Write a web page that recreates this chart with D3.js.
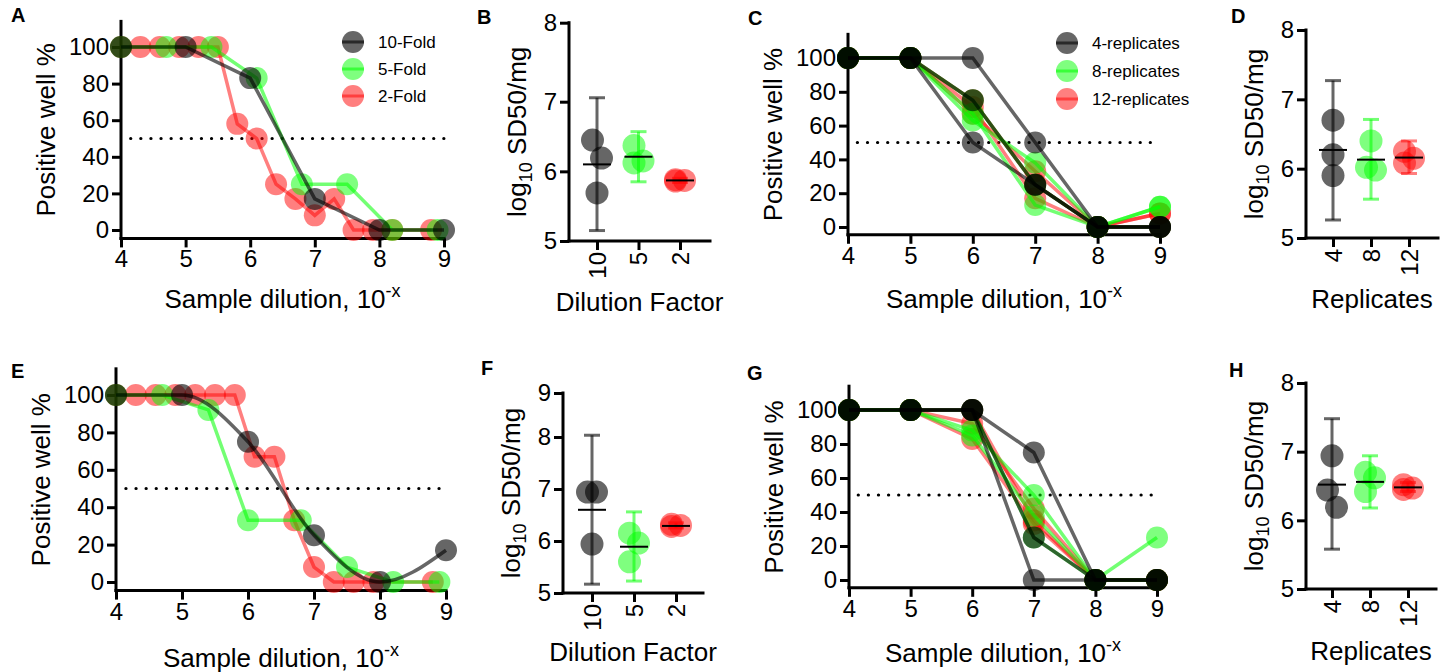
<!DOCTYPE html>
<html>
<head>
<meta charset="utf-8">
<title>Dilution series</title>
<script src="https://d3js.org/d3.v7.min.js"></script>
<style>
  body { margin: 0; background: #fff; }
  svg { font-family: "Liberation Sans", Arial, sans-serif; }
</style>
</head>
<body>
<svg id="fig" width="1445" height="672"></svg>
<script>
// ---- data ----
// line panels: [dilution exponent x (10^-x), positive well %]
var aTen  = [[4,100],[5,100],[6,83],[7,17],[8,0],[9,0]];
var aFive = [[4,100],[4.7,100],[5.4,100],[6.1,83],[6.8,25],[7.5,25],[8.2,0],[8.9,0]];
var aTwo  = [[4,100],[4.3,100],[4.6,100],[4.9,100],[5.2,100],[5.5,100],[5.8,58],[6.1,50],[6.4,25],[6.7,17],[7,8],[7.3,17],[7.6,0],[7.9,0],[8.2,0],[8.8,0]];

var eTen  = [[4,100],[5,100],[6,75],[7,25],[8,0],[9,17]];
var eFive = [[4,100],[4.7,100],[5.4,92],[6,33],[6.8,33],[7.5,8],[8.2,0],[8.9,0]];
var eTwo  = [[4,100],[4.3,100],[4.6,100],[4.9,100],[5.2,100],[5.5,100],[5.8,100],[6.1,67],[6.4,67],[6.7,33],[7,8],[7.3,0],[7.6,0],[7.9,0],[8.8,0]];

// replicate panels: one row per repeat, values at each dilution
var dilutions = [4,5,6,7,8,9];
var c4rep  = [[100,100,100,50,0,0],[100,100,50,25,0,0],[100,100,75,25,0,0]];
var c8rep  = [[100,100,63,38,0,12],[100,100,67,13,0,12],[100,100,75,25,0,0]];
var c12rep = [[100,100,71,17,0,8],[100,100,67,33,0,8],[100,100,75,25,0,0]];
var g4rep  = [[100,100,100,75,0,0],[100,100,100,0,0,0],[100,100,100,25,0,0]];
var g8rep  = [[100,100,88,50,0,25],[100,100,85,38,0,0],[100,100,100,25,0,0]];
var g12rep = [[100,100,92,42,0,0],[100,100,83,33,0,0],[100,100,100,35,0,0]];

var foldNames = ["10-Fold","5-Fold","2-Fold"];
var repNames  = ["4-replicates","8-replicates","12-replicates"];
var pctTicks  = [0,20,40,60,80,100];

// scatter panels: log10 SD50/mg, mean and 95% CI
var foldCats = ["10","5","2"];
var repCats  = ["4","8","12"];
var bPoints = [[6.45,6.19,5.69],[6.37,6.15,6.12],[5.88,5.86,5.87]];
var bMean = [6.10,6.21,5.87];
var bLow  = [5.15,5.85,5.84];
var bHigh = [7.05,6.57,5.90];
var dPoints = [[6.70,6.20,5.90],[6.40,6.02,5.98],[6.25,6.15,6.08]];
var dMean = [6.27,6.13,6.16];
var dLow  = [5.26,5.56,5.93];
var dHigh = [7.27,6.71,6.40];
var fPoints = [[6.94,6.94,5.94],[6.15,5.96,5.60],[6.32,6.28,6.30]];
var fMean = [6.60,5.89,6.29];
var fLow  = [5.17,5.23,6.25];
var fHigh = [8.04,6.56,6.35];
var hPoints = [[6.94,6.44,6.19],[6.70,6.62,6.42],[6.52,6.47,6.45]];
var hMean = [6.52,6.56,6.48];
var hLow  = [5.58,6.18,6.42];
var hHigh = [7.48,6.94,6.55];

// ---- styles ----
var colors = ["#000000","#00ff00","#ff0000"];
var dotAlpha = [0.6,0.5,0.5];
var lineAlpha = [0.6,0.55,0.5];

var svg = d3.select("#fig");

function styleAxis(g) {
	g.select(".domain").remove();
	g.attr("font-size", 24).attr("font-family", null);
	g.selectAll(".tick line").attr("stroke-width", 3);
	g.selectAll(".tick text").attr("fill", "#000");
}

function spine(x1, y1, x2, y2) {
	svg.append("line").attr("x1", x1).attr("y1", y1).attr("x2", x2).attr("y2", y2)
		.attr("stroke", "#000").attr("stroke-width", 3).attr("stroke-linecap", "square");
}

function panelLetter(t, x, y) {
	svg.append("text").attr("x", x).attr("y", y).attr("font-size", 20)
		.attr("font-weight", "bold").text(t);
}

function linePanel(L, series, names) {
	var x = d3.scaleLinear().domain([4, 9]).range([L.x4, L.x9]);
	var y = d3.scaleLinear().domain([0, 100]).range([L.y0, L.y100]);
	var yTop = y(114), yBot = y(-4.6);

	// axes
	svg.append("g").attr("transform", "translate(" + L.x4 + ",0)")
		.call(d3.axisLeft(y).tickValues(pctTicks).tickSize(9).tickPadding(3))
		.call(styleAxis);
	svg.append("g").attr("transform", "translate(0," + yBot + ")")
		.call(d3.axisBottom(x).tickValues(dilutions).tickFormat(d3.format("d")).tickSize(9).tickPadding(3))
		.call(styleAxis);
	spine(L.x4, yTop, L.x4, yBot);
	spine(L.x4, yBot, L.x9, yBot);

	// 50% line
	svg.append("line").attr("x1", x(4.15)).attr("x2", x(9))
		.attr("y1", y(50)).attr("y2", y(50))
		.attr("stroke", "#000").attr("stroke-width", 3.2)
		.attr("stroke-linecap", "round").attr("stroke-dasharray", "0.1,10");

	var line = d3.line().x(function(d) { return x(d[0]); }).y(function(d) { return y(d[1]); });
	// draw red first, gray last
	for (var k = series.length - 1; k >= 0; k--) {
		var s = series[k];
		s.sets.forEach(function(data) {
			svg.append("path").datum(data)
				.attr("d", line.curve(s.curve || d3.curveLinear))
				.attr("fill", "none").attr("stroke", colors[s.c])
				.attr("stroke-opacity", lineAlpha[s.c]).attr("stroke-width", 3.5);
			svg.selectAll(null).data(data).enter().append("circle")
				.attr("cx", function(d) { return x(d[0]); })
				.attr("cy", function(d) { return y(d[1]); })
				.attr("r", 11).attr("fill", colors[s.c]).attr("fill-opacity", dotAlpha[s.c]);
		});
	}

	// legend
	if (names) {
		names.forEach(function(n, i) {
			var cy = L.ly + i * L.lstep;
			svg.append("circle").attr("cx", L.lx).attr("cy", cy).attr("r", 11)
				.attr("fill", colors[i]).attr("fill-opacity", dotAlpha[i]);
			svg.append("line").attr("x1", L.lx - 11).attr("x2", L.lx + 11).attr("y1", cy).attr("y2", cy)
				.attr("stroke", colors[i]).attr("stroke-opacity", lineAlpha[i]).attr("stroke-width", 3);
			svg.append("text").attr("x", L.lx + 25).attr("y", cy).attr("dy", "0.35em")
				.attr("font-size", 17).text(n);
		});
	}

	// titles
	var xt = svg.append("text").attr("x", (L.x4 + L.x9) / 2).attr("y", L.titleY)
		.attr("text-anchor", "middle").attr("font-size", 26);
	xt.append("tspan").text("Sample dilution, 10");
	xt.append("tspan").attr("dy", -11).attr("font-size", 18).text("-x");
	svg.append("text")
		.attr("transform", "translate(" + (L.x4 - 66) + "," + ((yTop + yBot) / 2) + ") rotate(-90)")
		.attr("text-anchor", "middle").attr("font-size", 26).text("Positive well %");
}

function toPairs(rows) {
	return rows.map(function(r) { return r.map(function(v, i) { return [dilutions[i], v]; }); });
}

function jitter(vals, y) {
	var idx = vals.map(function(v, i) { return i; })
		.sort(function(a, b) { return y(vals[a]) - y(vals[b]); });
	var off = vals.map(function() { return 0; });
	var cl = [idx[0]];
	function flush() {
		if (cl.length > 1) cl.forEach(function(k, j) { off[k] = j % 2 === 0 ? -4.5 : 4.5; });
	}
	for (var i = 1; i < idx.length; i++) {
		if (y(vals[idx[i]]) - y(vals[idx[i - 1]]) < 19) cl.push(idx[i]);
		else { flush(); cl = [idx[i]]; }
	}
	flush();
	return off;
}

function scatterPanel(L, cats, pts, mean, low, high, ticks, xTitle) {
	var x = d3.scalePoint().domain(cats).range([L.c0, L.c1]);
	var y = d3.scaleLinear().domain(L.dom).range(L.rng);
	var yBot = y(ticks[0]), yTop = y(ticks[ticks.length - 1]);

	svg.append("g").attr("transform", "translate(" + L.ax + ",0)")
		.call(d3.axisLeft(y).tickValues(ticks).tickFormat(d3.format("d")).tickSize(9).tickPadding(3))
		.call(styleAxis);
	var xg = svg.append("g").attr("transform", "translate(0," + yBot + ")")
		.call(d3.axisBottom(x).tickSize(9))
		.call(styleAxis);
	xg.selectAll(".tick text").attr("transform", "rotate(-90)")
		.attr("text-anchor", "end").attr("x", -11).attr("y", 0).attr("dy", "0.35em");
	spine(L.ax, yTop, L.ax, yBot);
	spine(L.ax, yBot, L.xEnd, yBot);

	cats.forEach(function(c, i) {
		var cx = x(c);
		var off = jitter(pts[i], y);
		svg.selectAll(null).data(pts[i]).enter().append("circle")
			.attr("cx", function(d, j) { return cx + off[j]; })
			.attr("cy", function(d) { return y(d); })
			.attr("r", 11.5).attr("fill", colors[i]).attr("fill-opacity", dotAlpha[i]);
		var eb = svg.append("g").attr("stroke", colors[i]).attr("stroke-opacity", lineAlpha[i])
			.attr("stroke-width", 3);
		eb.append("line").attr("x1", cx).attr("x2", cx).attr("y1", y(low[i])).attr("y2", y(high[i]));
		[low[i], high[i]].forEach(function(v) {
			eb.append("line").attr("x1", cx - 8).attr("x2", cx + 8).attr("y1", y(v)).attr("y2", y(v));
		});
		svg.append("line").attr("x1", cx - 14).attr("x2", cx + 14)
			.attr("y1", y(mean[i])).attr("y2", y(mean[i]))
			.attr("stroke", "#000").attr("stroke-width", 2);
	});

	svg.append("text").attr("x", (L.ax + L.xEnd) / 2).attr("y", L.titleY)
		.attr("text-anchor", "middle").attr("font-size", 26).text(xTitle);
	var yt = svg.append("text")
		.attr("transform", "translate(" + (L.ax - 43) + "," + ((yTop + yBot) / 2) + ") rotate(-90)")
		.attr("text-anchor", "middle").attr("font-size", 26);
	yt.append("tspan").text("log");
	yt.append("tspan").attr("dy", 6).attr("font-size", 18).text("10");
	yt.append("tspan").attr("dy", -6).text(" SD50/mg");
}

// ---- panels ----
linePanel({x4: 121, x9: 444, y0: 230, y100: 47, titleY: 308, lx: 353, ly: 42, lstep: 27},
	[{c: 0, sets: [aTen]}, {c: 1, sets: [aFive]}, {c: 2, sets: [aTwo]}], foldNames);
linePanel({x4: 848, x9: 1160, y0: 227, y100: 58, titleY: 308, lx: 1067, ly: 43, lstep: 28},
	[{c: 0, sets: toPairs(c4rep)}, {c: 1, sets: toPairs(c8rep)}, {c: 2, sets: toPairs(c12rep)}], repNames);
linePanel({x4: 116, x9: 446, y0: 582, y100: 395, titleY: 667},
	[{c: 0, sets: [eTen], curve: d3.curveMonotoneX}, {c: 1, sets: [eFive]}, {c: 2, sets: [eTwo]}], null);
linePanel({x4: 849, x9: 1157, y0: 580, y100: 410, titleY: 662},
	[{c: 0, sets: toPairs(g4rep)}, {c: 1, sets: toPairs(g8rep)}, {c: 2, sets: toPairs(g12rep)}], null);

scatterPanel({ax: 569, xEnd: 710, c0: 597, c1: 680, titleY: 311, dom: [5, 7, 8], rng: [241, 101.7, 22.7]},
	foldCats, bPoints, bMean, bLow, bHigh, [5, 6, 7, 8], "Dilution Factor");
scatterPanel({ax: 1306, xEnd: 1438, c0: 1333, c1: 1409, titleY: 308, dom: [5, 8], rng: [238, 30]},
	repCats, dPoints, dMean, dLow, dHigh, [5, 6, 7, 8], "Replicates");
scatterPanel({ax: 563, xEnd: 703, c0: 592, c1: 676, titleY: 661, dom: [5, 8, 9], rng: [593, 437, 393]},
	foldCats, fPoints, fMean, fLow, fHigh, [5, 6, 7, 8, 9], "Dilution Factor");
scatterPanel({ax: 1306, xEnd: 1436, c0: 1332, c1: 1408, titleY: 660, dom: [5, 8], rng: [589, 383]},
	repCats, hPoints, hMean, hLow, hHigh, [5, 6, 7, 8], "Replicates");

panelLetter("A", 11, 22);
panelLetter("B", 477, 24);
panelLetter("C", 748, 25);
panelLetter("D", 1231, 23);
panelLetter("E", 11, 378);
panelLetter("F", 481, 375);
panelLetter("G", 747, 380);
panelLetter("H", 1229, 377);
</script>
</body>
</html>
